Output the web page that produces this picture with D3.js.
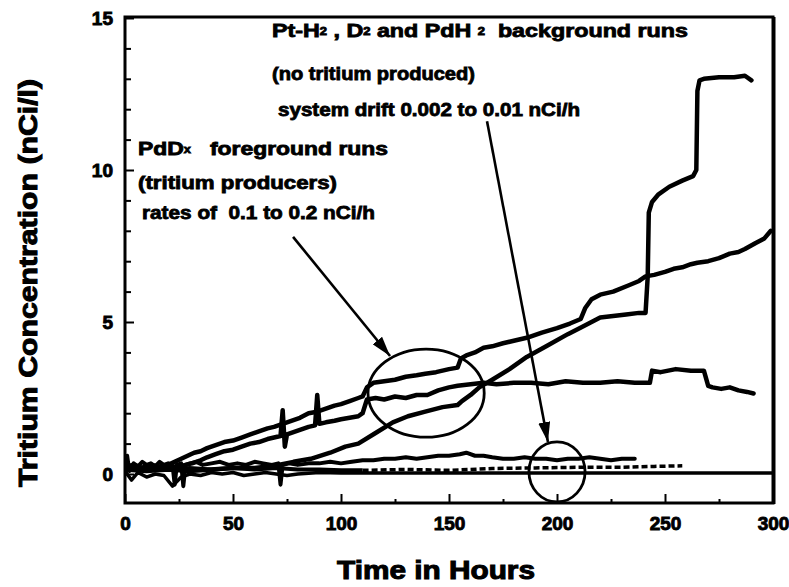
<!DOCTYPE html>
<html><head><meta charset="utf-8">
<script src="https://cdn.jsdelivr.net/npm/d3@7/dist/d3.min.js"></script>
<style>
html,body{margin:0;padding:0;background:#fff;}
svg{display:block;}
text{font-family:"Liberation Sans",Arial,sans-serif;font-weight:bold;fill:#000;white-space:pre;}
</style></head><body>
<svg id="chart" width="789" height="587"></svg>
<script>
// ---------- data ----------
const xTickValues = [0, 50, 100, 150, 200, 250, 300];
const xMinorTicks = [25, 75, 125, 175, 225, 275];
const yTickValues = [0, 5, 10, 15];
const yMinorTicks = [1, 2, 3, 4, 6, 7, 8, 9, 11, 12, 13, 14];

// foreground run 1 (steady rise to ~8 nCi/l)
const fg1Time = [0,4,8,12,16,20,23,26,29,32,35,38,42,46,50,54,58,62,66,69,73,77,81,85,89,93,97,100,104,108,110,112,115,120,125,130,135,139,144,150,154,155.5,158,162,166,170,175,181,187,193,200,206,211,213,216,220,226,233,238,241,245,250,254,258,262,265,270,275,280,284,287,292,296,299];
const fg1Conc = [0.25,0.3,0.2,0.3,0.25,0.3,0.4,0.5,0.6,0.7,0.75,0.85,0.95,1.05,1.1,1.2,1.3,1.4,1.5,1.55,1.65,1.75,1.85,2.0,2.05,2.15,2.25,2.3,2.4,2.5,2.55,2.85,3.0,3.05,3.1,3.2,3.25,3.3,3.35,3.45,3.5,3.8,3.9,4.0,4.15,4.2,4.3,4.4,4.5,4.65,4.8,4.95,5.1,5.45,5.75,5.9,6.0,6.2,6.35,6.5,6.55,6.65,6.75,6.8,6.9,6.95,7.0,7.1,7.25,7.3,7.4,7.6,7.75,8.0];

// foreground run 2 (levels off near 3 nCi/l)
const fg2Time = [0,5,10,15,20,25,31,35,38,42,46,50,54,58,62,66,69,72,73,74,75,77,81,85,88,89,90,93,97,100,104,108,110,112,116,120,125,130,135,140,145,150,154,160,166,172,180,188,196,204,212,220,228,236,243,244,248,255,262,268,270,272,276,280,284,288,291];
const fg2Conc = [0.2,0.15,0.25,0.2,0.2,0.25,0.35,0.45,0.55,0.65,0.75,0.8,0.9,1.0,1.05,1.15,1.2,1.25,2.1,0.9,1.3,1.35,1.45,1.55,1.6,2.6,1.65,1.7,1.75,1.8,1.85,1.9,2.0,2.45,2.5,2.45,2.55,2.5,2.6,2.6,2.75,2.85,2.9,2.95,3.0,2.95,3.0,3.0,2.95,3.05,3.0,3.0,3.05,3.0,3.0,3.4,3.35,3.45,3.4,3.4,2.9,2.85,2.8,2.85,2.75,2.7,2.65];

// foreground run 3 (late start, stepwise to ~13 nCi/l)
const fg3Time = [0,10,20,30,40,50,60,66,71,78,86,95,102,108,116,124,131,139,147,154,156,160,164,170,178,186,195,205,212,220,226,232,238,241,242,242.5,244,247,252,258,263,264.5,265,266,268,275,282,287,290];
const fg3Conc = [0.15,0.1,0.15,0.1,0.15,0.2,0.2,0.25,0.3,0.4,0.5,0.7,0.9,1.0,1.35,1.7,1.9,2.05,2.2,2.27,2.4,2.6,2.85,3.1,3.45,3.85,4.2,4.6,4.85,5.15,5.2,5.25,5.3,5.3,6.5,8.6,8.95,9.2,9.45,9.65,9.8,10.0,12.6,12.95,13.0,13.05,13.05,13.1,12.95];

// background runs
const bgATime = [0,1,2,4,6,8,10,12,14,16,18,20,22,23,24,26,27,28,30,33,36,40,44,48,52,56,60,64,68,71,72,73,76,80,85,90,95,100,105,110,115,120,125,130,135,140,145,150,155,158,162,166,170,175,180,185,190,195,200,205,210,215,220,225,230,236];
const bgAConc = [0.3,0.6,0.1,0.35,0.25,0.4,0.3,0.35,0.25,0.4,0.3,0.35,0.3,-0.35,0.3,0.35,-0.4,0.3,0.35,0.4,0.3,0.35,0.4,0.3,0.35,0.3,0.4,0.35,0.3,0.35,-0.35,0.3,0.35,0.3,0.35,0.35,0.4,0.35,0.4,0.45,0.45,0.5,0.5,0.55,0.5,0.55,0.6,0.6,0.65,0.7,0.6,0.6,0.55,0.5,0.5,0.55,0.5,0.5,0.45,0.5,0.5,0.55,0.5,0.45,0.5,0.5];
const bgBTime = [0,3,6,10,14,18,22,26,30,35,40,45,50,55,60,65,70,75,80,90,100,300];
const bgBConc = [0.1,-0.2,0.05,-0.1,0.0,-0.05,-0.4,-0.1,0.0,-0.05,0.05,0.0,0.05,-0.05,0.0,0.05,0.0,-0.05,0.0,0.05,0.03,0.03];
const bgCTime = [0,10,20,30,40,50,60,70,80,90,100,110,130,150,170,190,210,230,245,258];
const bgCConc = [0.15,0.2,0.15,0.2,0.15,0.2,0.15,0.2,0.15,0.15,0.12,0.12,0.15,0.12,0.18,0.2,0.22,0.22,0.25,0.27];

// ---------- layout ----------
const W = 789, H = 587;
const frame = {left: 125, right: 773, top: 17, bottom: 503};
const svg = d3.select('#chart');
svg.append('rect').attr('width', W).attr('height', H).attr('fill', '#fff');

const x = d3.scaleLinear().domain([0, 300]).range([frame.left, frame.right]);
const y = d3.scaleLinear().domain([0, 15]).range([474, 18]);

svg.append('defs').append('clipPath').attr('id', 'clip')
  .append('rect').attr('x', frame.left).attr('y', frame.top)
  .attr('width', frame.right - frame.left).attr('height', frame.bottom - frame.top);

const line = d3.line().x(d => x(d[0])).y(d => y(d[1]));
const plot = svg.append('g').attr('clip-path', 'url(#clip)');

function drawSeries(t, v, width, dash) {
  plot.append('path').datum(d3.zip(t, v)).attr('d', line)
    .attr('fill', 'none').attr('stroke', '#000').attr('stroke-width', width)
    .attr('stroke-linejoin', 'round').attr('stroke-linecap', 'round')
    .attr('stroke-dasharray', dash || null);
}
// background runs
drawSeries(bgBTime, bgBConc, 3.5);
const bgC = d3.zip(bgCTime, bgCConc);
plot.append('path').datum(bgC.filter(d => d[0] <= 110)).attr('d', line)
  .attr('fill', 'none').attr('stroke', '#000').attr('stroke-width', 4);
plot.append('path').datum(bgC.filter(d => d[0] >= 110)).attr('d', line)
  .attr('fill', 'none').attr('stroke', '#000').attr('stroke-width', 3.5)
  .attr('stroke-dasharray', '6,3');
drawSeries(bgATime, bgAConc, 4);
// foreground runs
drawSeries(fg1Time, fg1Conc, 4.5);
drawSeries(fg2Time, fg2Conc, 4.5);
drawSeries(fg3Time, fg3Conc, 4.5);

// ---------- axes ----------
function styleAxis(g) {
  g.select('.domain').remove();
  g.selectAll('.tick line').attr('stroke', '#000').attr('stroke-width', 2);
  g.selectAll('.tick text').attr('font-size', 19).attr('fill', '#000')
    .attr('stroke', '#000').attr('stroke-width', 0.9)
    .attr('font-family', '"Liberation Sans",Arial,sans-serif').attr('font-weight', 'bold');
}
svg.append('g').attr('transform', `translate(${frame.left},0)`)
  .call(d3.axisLeft(y).tickValues(yMinorTicks).tickSize(-6).tickFormat(''))
  .call(styleAxis);
svg.append('g').attr('transform', `translate(${frame.left},0)`)
  .call(d3.axisLeft(y).tickValues(yTickValues).tickSize(-9).tickPadding(12).tickFormat(d3.format('d')))
  .call(styleAxis);
svg.append('g').attr('transform', `translate(0,${frame.bottom})`)
  .call(d3.axisBottom(x).tickValues(xMinorTicks).tickSize(-4).tickFormat(''))
  .call(styleAxis);
svg.append('g').attr('transform', `translate(0,${frame.bottom})`)
  .call(d3.axisBottom(x).tickValues(xTickValues).tickSize(-9).tickPadding(14).tickFormat(d3.format('d')))
  .call(styleAxis);

// frame
svg.append('rect').attr('x', frame.left).attr('y', frame.top)
  .attr('width', frame.right - frame.left).attr('height', frame.bottom - frame.top)
  .attr('fill', 'none').attr('stroke', '#000').attr('stroke-width', 3);
svg.append('line').attr('x1', frame.right + 1).attr('x2', frame.right + 1)
  .attr('y1', frame.top).attr('y2', frame.bottom + 1)
  .attr('stroke', '#000').attr('stroke-width', 3);

// axis titles
svg.append('text').attr('transform', 'translate(37,283) rotate(-90)')
  .attr('text-anchor', 'middle').attr('font-size', 26)
  .attr('stroke', '#000').attr('stroke-width', 1)
  .attr('textLength', 408).attr('lengthAdjust', 'spacingAndGlyphs')
  .text('Tritium Concentration (nCi/l)');
svg.append('text').attr('x', 436).attr('y', 579)
  .attr('text-anchor', 'middle').attr('font-size', 25)
  .attr('stroke', '#000').attr('stroke-width', 1)
  .attr('textLength', 198).attr('lengthAdjust', 'spacingAndGlyphs')
  .text('Time in Hours');

// ---------- annotations ----------
const ann = svg.append('g');
// ellipses (in data coordinates)
const bigEllipse = {t: 139.4, c: 2.66, rt: 26.9, rc: 1.45};
const smallEllipse = {t: 200, c: 0.07, rt: 13, rc: 0.99};
[bigEllipse, smallEllipse].forEach(e => {
  ann.append('ellipse').attr('cx', x(e.t)).attr('cy', y(e.c))
    .attr('rx', x(e.t + e.rt) - x(e.t)).attr('ry', y(e.c) - y(e.c + e.rc))
    .attr('fill', 'none').attr('stroke', '#000').attr('stroke-width', 2.8);
});
// arrows
svg.select('defs').append('marker').attr('id', 'arrow')
  .attr('viewBox', '0 0 20 12').attr('refX', 20).attr('refY', 6)
  .attr('markerWidth', 20).attr('markerHeight', 12)
  .attr('markerUnits', 'userSpaceOnUse').attr('orient', 'auto')
  .append('path').attr('d', 'M0,0 L20,6 L0,12 Z').attr('fill', '#000');
const arrows = [
  {t0: 77.8, c0: 7.8, t1: 122.7, c1: 3.88},
  {t0: 167.6, c0: 11.6, t1: 195.8, c1: 1.05}
];
arrows.forEach(a => {
  ann.append('line').attr('x1', x(a.t0)).attr('y1', y(a.c0))
    .attr('x2', x(a.t1)).attr('y2', y(a.c1))
    .attr('stroke', '#000').attr('stroke-width', 2.6)
    .attr('marker-end', 'url(#arrow)');
});

// text blocks
function label(px, py, parts, len) {
  const t = ann.append('text').attr('x', px).attr('y', py).attr('font-size', 18)
    .attr('stroke', '#000').attr('stroke-width', 0.8);
  let inSub = false;
  parts.forEach(p => {
    if (typeof p === 'string') {
      t.append('tspan').attr('dy', inSub ? 2 : null).text(p);
      inSub = false;
    } else {
      t.append('tspan').attr('font-size', 10).attr('dy', -2).text(p.sub);
      inSub = true;
    }
  });
  if (len) t.attr('textLength', len).attr('lengthAdjust', 'spacingAndGlyphs');
  return t;
}
label(272, 37, ['Pt-H', {sub: '2'}, ' , D', {sub: '2'}, ' and PdH ', {sub: '2'}, '  background runs'], 416);
label(272, 80, ['(no tritium produced)'], 203);
label(278, 116, ['system drift 0.002 to 0.01 nCi/h'], 302);
label(138, 155, ['PdD', {sub: 'x'}, '   foreground runs'], 250);
label(138, 189, ['(tritium producers)'], 199);
label(142, 219, ['rates of  0.1 to 0.2 nCi/h'], 233);
</script>
</body></html>
